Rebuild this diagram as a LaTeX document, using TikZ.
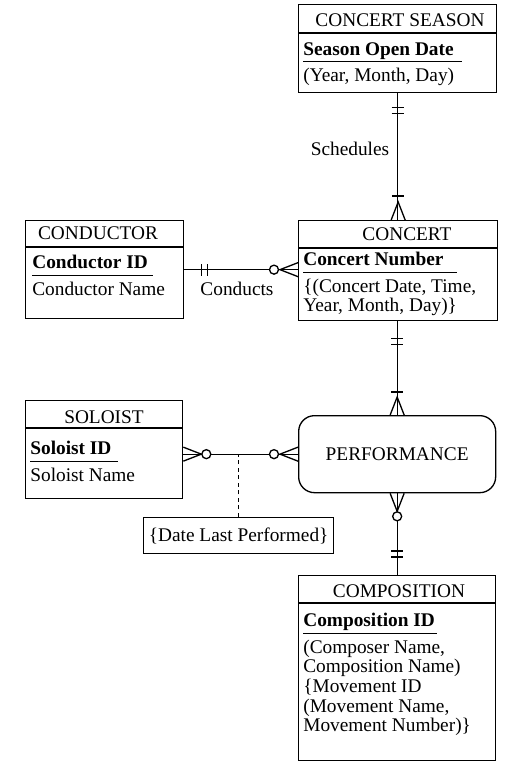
\documentclass[tikz,border=0pt]{standalone}
\usepackage{fontspec}
\setmainfont{Liberation Serif}
\usetikzlibrary{positioning,calc}
\newdimen\pxu
\pxu=0.02cm
\newcommand{\erfont}{\fontsize{11}{11.2}\selectfont}
\newcommand{\keyattr}[2][4pt]{\underline{\textbf{#2}\hspace{#1}\vphantom{p}}}
\tikzset{
  entBox/.style={draw,line width=0.75pt,anchor=north west,inner sep=0pt},
  entHead/.style={anchor=base,inner sep=0pt,font=\erfont},
  entBody/.style={anchor=north west,align=left,inner sep=0pt,font=\erfont},
  relLabel/.style={inner sep=0pt,font=\erfont},
  relLine/.style={line width=0.75pt},
  oneBar/.pic={\draw[relLine] (-6,0) -- (6,0);},
  crowFoot/.pic={\draw[relLine] (-7,0) -- (0,-18) -- (7,0);},
  zeroRing/.pic={\draw[relLine,fill=white] (0,0) circle[radius=4.5];}
}
\begin{document}
\begin{tikzpicture}[x=0.02cm,y=-0.02cm]
  \useasboundingbox (0,0) rectangle (506,770);
  % entities
  \node[entBox,minimum width=198*\pxu,minimum height=88*\pxu] (season) at (298,4) {};
  \node[entBox,minimum width=199*\pxu,minimum height=100*\pxu] (concert) at (298,220) {};
  \node[entBox,minimum width=158*\pxu,minimum height=98*\pxu] (conductor) at (25,220) {};
  \node[entBox,minimum width=157*\pxu,minimum height=98*\pxu] (soloist) at (25,400) {};
  \node[entBox,minimum width=197*\pxu,minimum height=185*\pxu] (composition) at (298,575) {};
  \node[entBox,rounded corners=9pt,minimum width=197*\pxu,minimum height=77*\pxu,font=\erfont] (performance) at (298,415) {PERFORMANCE};
  \node[entBox,minimum width=190*\pxu,minimum height=36*\pxu,font=\erfont] (dateAttr) at (143,517) {\{Date Last Performed\}};
  \foreach \e/\d in {season/29,concert/28,conductor/27,soloist/28,composition/28}
      \draw[relLine] ($(\e.north west)+(0,\d)$) -- ($(\e.north east)+(0,\d)$);
  % headers and attributes
  \node[entHead] (seasonT) at (400,27) {CONCERT SEASON};
  \node[entHead] (concertT) at (407,240) {CONCERT};
  \node[entHead] (conductorT) at (98,239) {CONDUCTOR};
  \node[entHead] (soloistT) at (104,423) {SOLOIST};
  \node[entHead] (compositionT) at (399,597) {COMPOSITION};
  \node[entBody] (seasonA) at (303,42) {\keyattr[5pt]{Season Open Date}\\[2pt](Year, Month, Day)};
  \node[entBody] (concertA) at (303,252) {\keyattr[8pt]{Concert Number}\\[2pt]\{(Concert Date, Time,\\Year, Month, Day)\}};
  \node[entBody] (conductorA) at (32,255) {\keyattr[3pt]{Conductor ID}\\[2pt]Conductor Name};
  \node[entBody] (soloistA) at (30,441) {\keyattr[4pt]{Soloist ID}\\[2pt]Soloist Name};
  \node[entBody] (compositionA) at (303,613) {\keyattr[1pt]{Composition ID}\\[2pt](Composer Name,\\Composition Name)\\\{Movement ID\\(Movement Name,\\Movement Number)\}};
  % Schedules
  \draw[relLine] (season.south) -- (season.south |- concert.north);
  \pic at ($(season.south)+(0,14)$) {oneBar};
  \pic at ($(season.south)+(0,20)$) {oneBar};
  \pic at ($(concert.north)+(0,-24)$) {oneBar};
  \pic at (concert.north) {crowFoot};
  \node[relLabel] (schedLbl) at (350,149) {Schedules};
  % Conducts
  \coordinate (condEnd) at (conductor.east -| concert.west);
  \draw[relLine] (conductor.east) -- (condEnd);
  \pic[rotate=90] at ($(conductor.east)+(17,0)$) {oneBar};
  \pic[rotate=90] at ($(conductor.east)+(23,0)$) {oneBar};
  \pic at ($(condEnd)+(-24,0)$) {zeroRing};
  \pic[rotate=90] at (condEnd) {crowFoot};
  \node[relLabel] (condLbl) at (237,289) {Conducts};
  % concert - performance
  \draw[relLine] (performance.north |- concert.south) -- (performance.north);
  \pic at ($(performance.north |- concert.south)+(0,17)$) {oneBar};
  \pic at ($(performance.north |- concert.south)+(0,23)$) {oneBar};
  \pic at ($(performance.north)+(0,-23)$) {oneBar};
  \pic at (performance.north) {crowFoot};
  % soloist - performance
  \coordinate (soloEnd) at (performance.west -| soloist.east);
  \draw[relLine] (soloEnd) -- (performance.west);
  \draw[relLine,dash pattern=on 2.3pt off 2pt] (dateAttr.north) -- (dateAttr.north |- performance.west);
  \pic[rotate=-90] at (soloEnd) {crowFoot};
  \pic at ($(soloEnd)+(23,0)$) {zeroRing};
  \pic at ($(performance.west)+(-24,0)$) {zeroRing};
  \pic[rotate=90] at (performance.west) {crowFoot};
  % performance - composition
  \draw[relLine] (performance.south) -- (performance.south |- composition.north);
  \pic[rotate=180] at (performance.south) {crowFoot};
  \pic at ($(performance.south)+(0,23)$) {zeroRing};
  \pic at ($(performance.south |- composition.north)+(0,-24)$) {oneBar};
  \pic at ($(performance.south |- composition.north)+(0,-18)$) {oneBar};
\end{tikzpicture}
\end{document}
